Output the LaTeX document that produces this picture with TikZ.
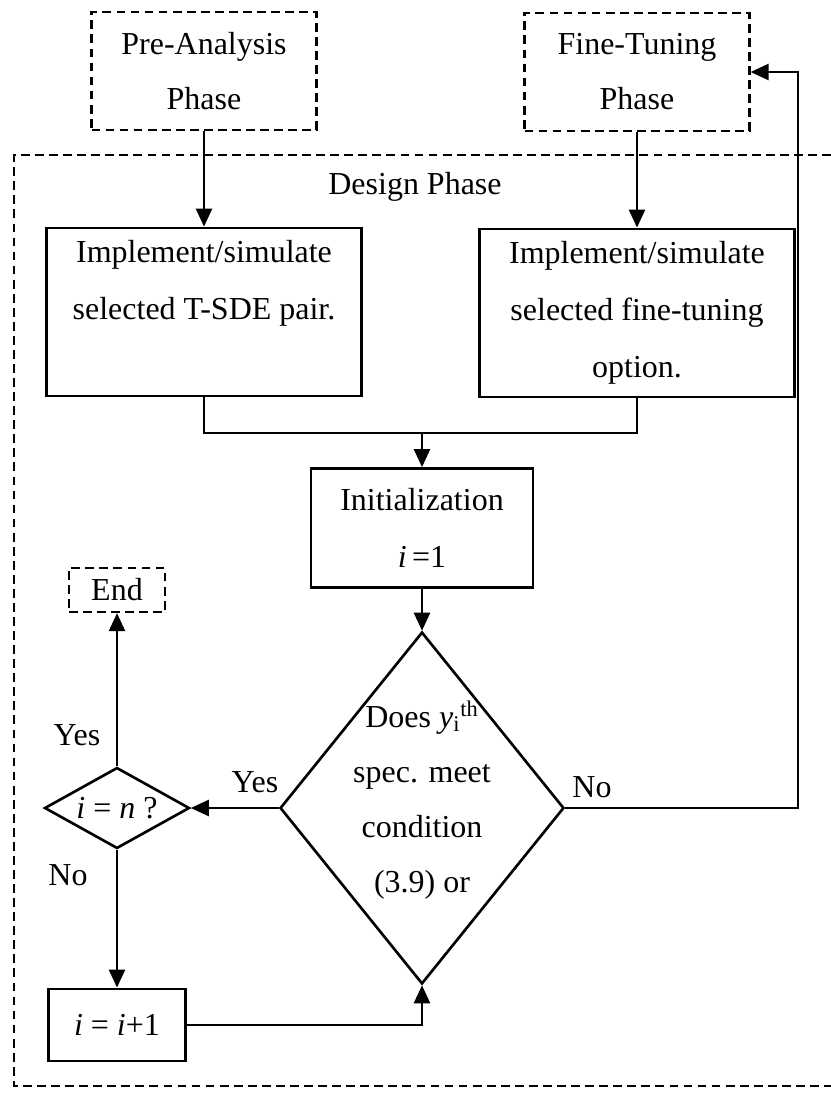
\documentclass[tikz,border=0pt]{standalone}
\usepackage{fontspec}
\setmainfont{Liberation Serif}
\usetikzlibrary{shapes.geometric,arrows.meta}

\tikzset{
  box/.style={draw,line width=1.6pt,align=center,inner sep=0pt,font=\fontsize{18.2}{32.3}\selectfont},
  phase/.style={draw,dash pattern=on 5pt off 3pt,line width=1.3pt,align=center,inner sep=0pt},
  decision/.style={draw,diamond,line width=1.5pt,inner sep=0pt},
  link/.style={line width=1.4pt},
  arr/.style={link,-{Triangle[length=0.36cm,width=0.32cm]}}
}

\begin{document}
\begin{tikzpicture}[x=0.02cm,y=-0.02cm,font=\fontsize{18.2}{31.3}\selectfont]
\useasboundingbox (0,0) rectangle (831,1093);
% phases outside the design loop
\node[phase,minimum width=4.5cm,minimum height=2.36cm] (pre) at (204,71) {Pre-Analysis\\Phase};
\node[phase,minimum width=4.5cm,minimum height=2.36cm] (fine) at (637,72) {Fine-Tuning\\Phase};
\draw[phase] (831,155) -- (14,155) -- (14,1086) -- (831,1086);
\node (design) at (415,187) {Design Phase};

\node[box,minimum width=6.3cm,minimum height=3.36cm] (tsde) at (204,312) {Implement/simulate\\selected T-SDE pair.\\ \phantom{option.}};
\node[box,minimum width=6.3cm,minimum height=3.36cm] (tune) at (637,313) {Implement/simulate\\selected fine-tuning\\option.};
\node[box,minimum width=4.44cm,minimum height=2.38cm] (init) at (422,528) {Initialization\\\textit{i}\,=1};
\node[decision,minimum width=5.68cm,minimum height=7.04cm,
  label={[align=center,yshift=0.16cm]center:{Does \textit{y}\textsubscript{i}\textsuperscript{th}\\spec. meet\\condition\\(3.9) or}}] (check) at (422,808) {};
\node[decision,aspect=1.8,minimum width=2.9cm,minimum height=1.62cm] (last) at (117,808) {\textit{i} = \textit{n} ?};
\node[phase,minimum width=1.92cm,minimum height=0.88cm] (stop) at (117,590) {End};
\node[box,minimum width=2.74cm,minimum height=1.44cm] (next) at (117,1025) {\textit{i} = \textit{i}+1};

\node (yesup) at (77,735) {Yes};
\node (nodown) at (68,875) {No};
\node (yesleft) at (255,782) {Yes};
\node (noright) at (592,787) {No};

% connectors
\coordinate (join) at (422,433);
\coordinate (turn) at (798,808);
\draw[arr] (pre) -- (tsde);
\draw[arr] (fine) -- (tune);
\draw[link] (tsde.south) |- (join) -| (tune.south);
\draw[arr] (join) -- (init);
\draw[arr] (init) -- (check);
\draw[arr] (check.west) -- (last.east);
\draw[arr] (last) -- (stop);
\draw[arr] (last) -- (next);
\draw[arr] (next.east) -| (check.south);
\draw[arr] (check.east) -- (turn) |- (fine.east);
\end{tikzpicture}
\end{document}
